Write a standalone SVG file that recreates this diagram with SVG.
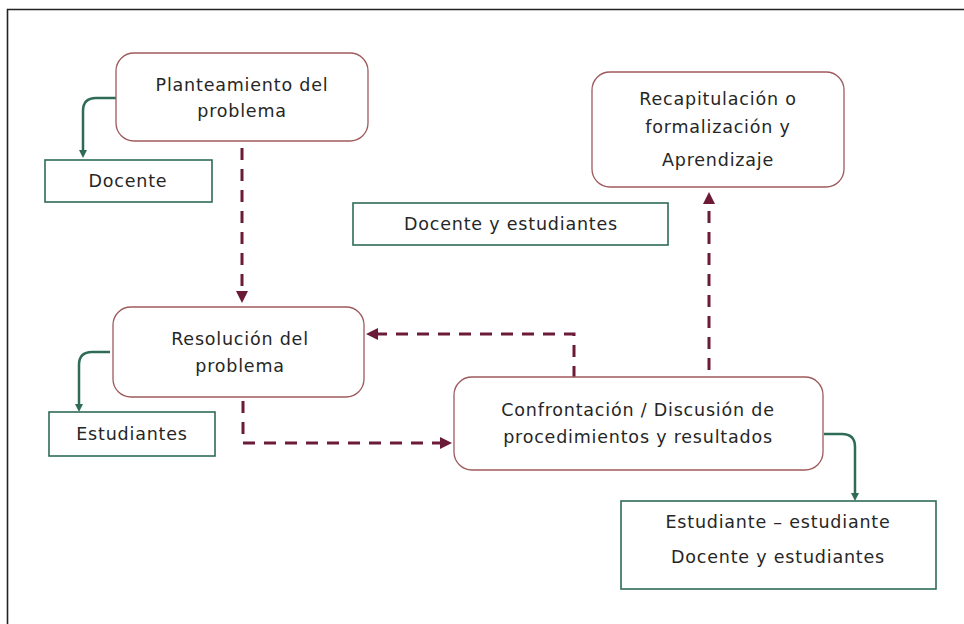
<svg xmlns="http://www.w3.org/2000/svg" width="964" height="624" viewBox="0 0 964 624">
<style>
.node{fill:#fff;stroke:#9e5a5c;stroke-width:1.3}
.role{fill:#fff;stroke:#2f6b58;stroke-width:1.6}
.t{font-family:"DejaVu Sans","Liberation Sans",sans-serif;font-size:17.5px;letter-spacing:0.8px;fill:#262626;text-anchor:middle}
.dash{fill:none;stroke:#6b1b38;stroke-width:3;stroke-dasharray:12 9}
.grn{fill:none;stroke:#2f6b58;stroke-width:2.5}
</style>
<defs>
<marker id="ma" markerWidth="12" markerHeight="12" refX="6" refY="6" orient="auto" markerUnits="userSpaceOnUse"><path d="M0,0 L12,6 L0,12 z" fill="#6b1b38"/></marker>
<marker id="ga" markerWidth="8" markerHeight="8" refX="4" refY="4" orient="auto" markerUnits="userSpaceOnUse"><path d="M0,0 L8,4 L0,8 z" fill="#2f6b58"/></marker>
</defs>
<rect x="0" y="0" width="964" height="624" fill="#fff"/>
<path d="M7.5,624 V9.5 H964" fill="none" stroke="#222" stroke-width="1.6"/>
<g id="connectors">
<path class="grn" d="M116,98 H96 Q83,98 83,111 V154" marker-end="url(#ga)"/>
<path class="grn" d="M110,352 H92 Q79,352 79,365 V408" marker-end="url(#ga)"/>
<path class="grn" d="M824,434 H842 Q855,434 855,447 V497" marker-end="url(#ga)"/>
<path class="dash" d="M242,148 V297" marker-end="url(#ma)"/>
<path class="dash" d="M243,401 V443 H446" marker-end="url(#ma)"/>
<path class="dash" d="M574,378 V334 H372" marker-end="url(#ma)"/>
<path class="dash" d="M709,370 V198" marker-end="url(#ma)"/>
</g>
<g id="planteamiento">
<rect class="node" x="116" y="53" width="252" height="88" rx="18"/>
<text class="t" x="242" y="91">Planteamiento del</text>
<text class="t" x="242" y="117">problema</text>
</g>
<g id="docente">
<rect class="role" x="45" y="160" width="167" height="42"/>
<text class="t" x="128" y="187">Docente</text>
</g>
<g id="resolucion">
<rect class="node" x="113" y="307" width="251" height="90" rx="18"/>
<text class="t" x="240" y="345">Resolución del</text>
<text class="t" x="240" y="372">problema</text>
</g>
<g id="estudiantes">
<rect class="role" x="49" y="412" width="166" height="44"/>
<text class="t" x="132" y="440">Estudiantes</text>
</g>
<g id="confrontacion">
<rect class="node" x="454" y="377" width="369" height="93" rx="18"/>
<text class="t" x="638" y="416">Confrontación / Discusión de</text>
<text class="t" x="638" y="443">procedimientos y resultados</text>
</g>
<g id="interaccion">
<rect class="role" x="621" y="501" width="315" height="88"/>
<text class="t" x="778" y="528">Estudiante – estudiante</text>
<text class="t" x="778" y="563">Docente y estudiantes</text>
</g>
<g id="recapitulacion">
<rect class="node" x="592" y="72" width="252" height="115" rx="18"/>
<text class="t" x="718" y="105">Recapitulación o</text>
<text class="t" x="718" y="133">formalización y</text>
<text class="t" x="718" y="166">Aprendizaje</text>
</g>
<g id="docente-estudiantes">
<rect class="role" x="353" y="203" width="315" height="42"/>
<text class="t" x="511" y="230">Docente y estudiantes</text>
</g>
</svg>
